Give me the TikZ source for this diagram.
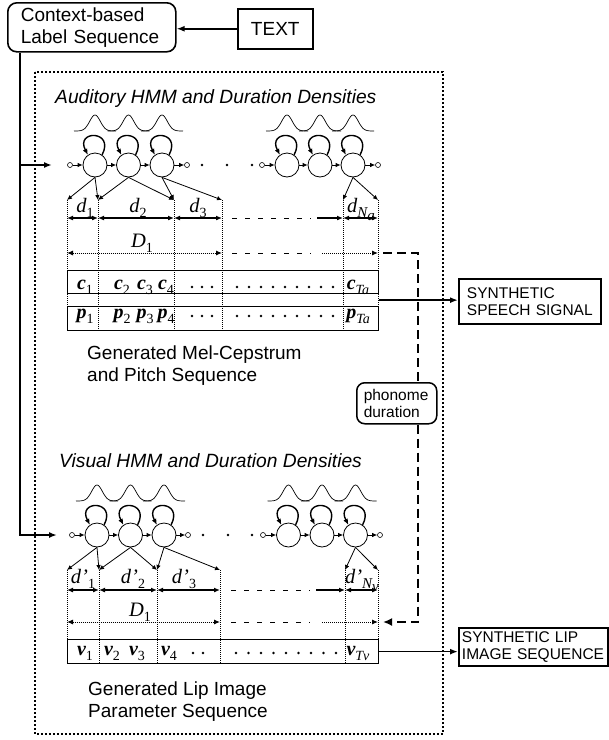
\documentclass[tikz,border=0pt]{standalone}
\usepackage{fontspec}
\setmainfont{Liberation Sans}
\newfontfamily\tms{Liberation Serif}
\usetikzlibrary{arrows.meta,calc}

% subscripts and math-like labels set in Times-like serif
\newcommand\tsub[1]{\raisebox{-0.25em}{\fontsize{14}{14}\selectfont #1}}
\newcommand\mfont{\tms\fontsize{20.5}{20.5}\selectfont}
\newcommand\dlab[1]{{\mfont\itshape d\tsub{\upshape #1}}}
\newcommand\dplab[1]{{\mfont\itshape d’\tsub{\upshape #1}}}
\newcommand\dnlab[1]{{\mfont\itshape d\raisebox{-0.25em}{\fontsize{15}{15}\selectfont N\raisebox{-0.2em}{#1}}}}
\newcommand\dpnlab[1]{{\mfont\itshape d’\raisebox{-0.25em}{\fontsize{15}{15}\selectfont N\raisebox{-0.2em}{#1}}}}
\newcommand\Dlab{{\mfont\itshape D\tsub{\upshape 1}}}
\newcommand\vecl[2]{{\tms\fontsize{20}{20}\selectfont\bfseries\itshape #1\tsub{\mdseries\upshape #2}}}
\newcommand\vecT[2]{{\tms\fontsize{20}{20}\selectfont\bfseries\itshape #1\tsub{\mdseries\itshape #2}}}

% one left-to-right HMM group: prefix, y, first state x, pitch, entry x, exit x
\newcommand\hmmgroup[6]{%
  \node[port] (#1in) at (#5,#2) {};
  \node[state] (#11) at (#3,#2) {};
  \node[state] (#12) at ({#3+#4},#2) {};
  \node[state] (#13) at ({#3+2*#4},#2) {};
  \node[port] (#1out) at (#6,#2) {};
  \draw[tr] (#1in) -- (#11);
  \draw[tr] (#11) -- (#12);
  \draw[tr] (#12) -- (#13);
  \draw[tr] (#13) -- (#1out);
  \foreach \k in {1,2,3}{
    \draw[selfloop] (#1\k.55) .. controls ($(#1\k.55)+(13,-25)$) and ($(#1\k.125)+(-13,-25)$) .. (#1\k.125);
    \pgfmathsetmacro\gx{#3+(\k-1)*#4}
    \pgfmathsetmacro\gy{#2-34}
    \draw[gauss] plot[domain=-21:21, samples=43, smooth] ({\gx+\x},{\gy-16*exp(-(\x/7.5)*(\x/7.5))});
  }
}

\begin{document}
\begin{tikzpicture}[x=1pt,y=-1pt,
  txt/.style={font=\fontsize{19}{22}\selectfont, inner sep=0pt},
  smallfont/.style={font=\fontsize{15.5}{17.5}\selectfont},
  rbox/.style={draw, line width=1.6pt, rounded corners=9pt},
  sbox/.style={draw, line width=1.5pt},
  obox/.style={draw, line width=1.9pt, smallfont, align=left},
  state/.style={circle, draw, line width=0.8pt, minimum size=24pt, inner sep=0pt},
  port/.style={circle, draw, line width=0.6pt, minimum size=5pt, inner sep=0pt},
  tr/.style={line width=0.8pt, -{Latex[length=5pt,width=4.5pt]}},
  selfloop/.style={line width=1.4pt, -{Latex[length=6pt,width=5pt]}},
  gauss/.style={line width=0.7pt},
  bnd/.style={line width=0.6pt, dash pattern=on 0.9pt off 1.1pt},
  darr/.style={line width=1.3pt, {Latex[length=6pt,width=5pt]}-{Latex[length=6pt,width=5pt]}},
  rarr/.style={line width=1.3pt, -{Latex[length=6pt,width=5pt]}},
  dotarr/.style={line width=1pt, dash pattern=on 1pt off 1pt, {Latex[length=6pt,width=5pt]}-{Latex[length=6pt,width=5pt]}},
  dotr/.style={line width=1pt, dash pattern=on 1pt off 1pt, -{Latex[length=6pt,width=5pt]}},
  gapdash/.style={line width=1pt, dash pattern=on 5pt off 8pt},
  row/.style={draw, line width=1.3pt, inner sep=0pt},
  item/.style={anchor=base, inner sep=0pt},
  thickdash/.style={line width=2.3pt, dash pattern=on 9pt off 5pt},
  outerframe/.style={line width=1.1pt, dash pattern=on 1.8pt off 2.2pt},
  bigarr/.style={line width=1.6pt, -{Latex[length=8pt,width=6pt]}},
]
\useasboundingbox (0,0) rectangle (609,740);
\fill[white] (0,0) rectangle (609,740);

% input boxes
\node[rbox, txt, anchor=north west, minimum width=168pt, minimum height=49pt,
      text width=142pt, inner xsep=13pt, align=left] (ctx) at (7,2) {Context-based\\Label Sequence};
\node[sbox, txt, inner sep=0pt, anchor=north west, minimum width=75pt, minimum height=40pt] (tx) at (237,8) {TEXT};
\draw[bigarr] (tx.west) -- (tx.west -| ctx.east);

% dotted frame around both models
\draw[outerframe] (35,72) rectangle (443,734);

% label sequence feeding both models
\coordinate (jt) at (20,165);
\coordinate (jb) at (20,535);
\coordinate (ht) at (52,165);
\coordinate (hb) at (57,535);
\draw[bigarr] (ctx.south -| jt) -- (jb) -- (hb);
\draw[bigarr] (jt) -- (ht);

% ---------------- auditory part ----------------
\node[txt, font=\fontsize{19.2}{22}\selectfont, anchor=base west] (atitle) at (55,103) {\itshape Auditory HMM and Duration Densities};
\hmmgroup{a}{165}{95}{33.5}{70}{187}
\hmmgroup{b}{165}{287}{33}{262}{378}
\foreach \x in {202,227,252} \fill (\x,165) circle (1.3);

\foreach \n/\x in {0/67,1/98,2/174,3/222,4/343,5/378} \coordinate (ub\n) at (\x,200);
\draw[tr] (a1.south) -- (ub0);
\draw[tr] (a1.south) -- (ub1);
\draw[tr] (a2.south) -- (ub1);
\draw[tr] (a2.south) -- (ub2);
\draw[tr] (a3.south) -- (ub2);
\draw[tr] (a3.south) -- (ub3);
\draw[tr] (b3.south) -- (ub4);
\draw[tr] (b3.south) -- (ub5);
\foreach \bn in {ub0,ub1,ub2,ub3,ub4,ub5} \draw[bnd] (\bn) -- (\bn |- 0,330);

\node[item] (ud1) at (85,212) {\dlab{1}};
\node[item] (ud2) at (138,212) {\dlab{2}};
\node[item] (ud3) at (198,212) {\dlab{3}};
\node[item] (udn) at (361,212) {\dnlab{a}};
\foreach \p/\q in {ub0/ub1,ub1/ub2,ub2/ub3,ub4/ub5} \draw[darr] (\p |- 0,218) -- (\q |- 0,218);
\draw[gapdash] (232,218) -- (311,218);
\draw[rarr] (317,218) -- (ub4 |- 0,218);

\node[item] (uD) at (142,247) {\Dlab};
\draw[dotarr] (ub0 |- 0,253) -- (ub3 |- 0,253);
\draw[gapdash] (232,253) -- (311,253);
\draw[dotr] (322,253) -- (ub5 |- 0,253);

\node[row, anchor=north west, minimum width=311pt, minimum height=23pt] (crow) at (67,270) {};
\node[row, anchor=north west, minimum width=311pt, minimum height=24pt] (prow) at (67,306) {};
\node[item] (c1) at (85,289) {\vecl{c}{1}};
\node[item] (c2) at (122,289) {\vecl{c}{2}};
\node[item] (c3) at (145,289) {\vecl{c}{3}};
\node[item] (c4) at (166,289) {\vecl{c}{4}};
\node[item] (cT) at (358,289) {\vecT{c}{Ta}};
\node[item] (p1) at (85,318) {\vecl{p}{1}};
\node[item] (p2) at (122,318) {\vecl{p}{2}};
\node[item] (p3) at (145,318) {\vecl{p}{3}};
\node[item] (p4) at (166,318) {\vecl{p}{4}};
\node[item] (pT) at (358,318) {\vecT{p}{Ta}};
\foreach \x in {192,202,212,237,249,261,273,285,297,309,321,333} {
  \fill (\x,287) circle (1.4);
  \fill (\x,316) circle (1.4);
}
\node[txt, anchor=north west, align=left] (mcep) at (87,346) {Generated Mel-Cepstrum\\and Pitch Sequence};

% output: speech
\node[obox, anchor=north west, minimum width=142pt, minimum height=45pt, text width=126pt, inner xsep=8pt] (sss) at (458,278) {SYNTHETIC\\SPEECH SIGNAL};
\coordinate (cpmid) at ($(crow.south east)!0.5!(prow.north east)$);
\draw[bigarr] (cpmid) -- (cpmid -| sss.west);

% phoneme duration shared by both models
\coordinate (dv) at (418,253);
\node[rbox, smallfont, line width=1.5pt, rounded corners=8pt, anchor=north west, minimum width=80pt, minimum height=41pt,
      text width=66pt, inner xsep=7pt, align=left] (phon) at (356,382) {phonome\\duration};
\draw[thickdash] (383,253) -- (dv) -- (phon.north -| dv);

% ---------------- visual part ----------------
\node[txt, font=\fontsize{19.2}{22}\selectfont, anchor=base west] (vtitle) at (59,467) {\itshape Visual HMM and Duration Densities};
\hmmgroup{c}{535}{97}{33.5}{72}{188}
\hmmgroup{d}{535}{288.5}{33.5}{263}{380}
\foreach \x in {203,228,252} \fill (\x,535) circle (1.3);

\foreach \n/\x in {0/67,1/99,2/157,3/220,4/345,5/378} \coordinate (lb\n) at (\x,570);
\draw[tr] (c1.south) -- (lb0);
\draw[tr] (c1.south) -- (lb1);
\draw[tr] (c2.south) -- (lb1);
\draw[tr] (c2.south) -- (lb2);
\draw[tr] (c3.south) -- (lb2);
\draw[tr] (c3.south) -- (lb3);
\draw[tr] (d3.south) -- (lb4);
\draw[tr] (d3.south) -- (lb5);
\foreach \bn in {lb0,lb1,lb2,lb3,lb4,lb5} \draw[bnd] (\bn) -- (\bn |- 0,663);

\node[item] (ld1) at (83,583) {\dplab{1}};
\node[item] (ld2) at (133,583) {\dplab{2}};
\node[item] (ld3) at (184,583) {\dplab{3}};
\node[item] (ldn) at (362,583) {\dpnlab{v}};
\foreach \p/\q in {lb0/lb1,lb1/lb2,lb2/lb3,lb4/lb5} \draw[darr] (\p |- 0,590) -- (\q |- 0,590);
\draw[gapdash] (231,590) -- (310,590);
\draw[rarr] (316,590) -- (lb4 |- 0,590);

\node[item] (lD) at (140,616) {\Dlab};
\draw[dotarr] (lb0 |- 0,622) -- (lb3 |- 0,622);
\draw[gapdash] (231,622) -- (310,622);
\draw[dotr] (322,622) -- (lb5 |- 0,622);

\draw[thickdash, -{Latex[length=9pt,width=8pt]}] (phon.south -| dv) -- (dv |- 0,622) -- (383,622);

\node[row, anchor=north west, minimum width=311pt, minimum height=24pt] (vrow) at (67,639) {};
\node[item] (v1) at (85,655) {\vecl{v}{1}};
\node[item] (v2) at (112,655) {\vecl{v}{2}};
\node[item] (v3) at (137,655) {\vecl{v}{3}};
\node[item] (v4) at (169,655) {\vecl{v}{4}};
\node[item] (vT) at (358,655) {\vecT{v}{Tv}};
\foreach \x in {193,203,236,248.5,261,273.5,286,298.5,311,323.5,336} \fill (\x,653) circle (1.4);
\node[txt, anchor=north west, align=left] (lipg) at (88,682) {Generated Lip Image\\Parameter Sequence};

% output: lip images
\node[obox, anchor=north west, minimum width=149pt, minimum height=38pt, text width=143pt, inner xsep=3pt] (lip) at (458,627) {SYNTHETIC LIP\\IMAGE SEQUENCE};
\draw[bigarr] (vrow.east) -- (vrow.east -| lip.west);
\end{tikzpicture}
\end{document}
